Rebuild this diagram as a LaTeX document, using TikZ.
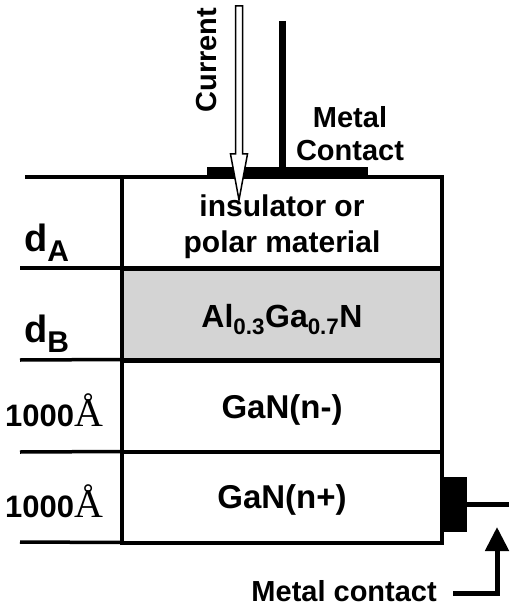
\documentclass[tikz,border=0pt]{standalone}
\usepackage{fontspec}
\setmainfont{Liberation Sans}[BoldFont={Liberation Sans Bold}]
\newfontfamily\serifA{Liberation Serif}
\usetikzlibrary{arrows.meta}
\begin{document}
\begin{tikzpicture}[x=1pt,y=-1pt,
  layer/.style={draw=black,line width=4pt,minimum width=320pt,minimum height=91pt,inner sep=0pt,outer sep=0pt},
  ltext/.style={inner sep=0pt,anchor=base,font=\fontsize{33}{35}\selectfont\bfseries},
  tick/.style={line width=3.5pt},
  lbl/.style={inner sep=0pt,font=\fontsize{29}{34}\selectfont\bfseries},
  num/.style={inner sep=0pt,font=\fontsize{31}{34}\selectfont\bfseries},
  bigd/.style={inner sep=0pt,font=\fontsize{38}{40}\selectfont\bfseries}]
\useasboundingbox (0,0) rectangle (509,612);
% layers
\node[layer,fill=white] (L1) at (282,222.5) {};
\node[layer,fill=black!17] (L2) at (282,314) {};
\node[layer,fill=white] (L3) at (282,406) {};
\node[layer,fill=white] (L4) at (282,497) {};
% layer texts
\node[lbl,anchor=base,font=\fontsize{30}{35}\selectfont\bfseries] (T1a) at (282,217) {insulator or};
\node[lbl,anchor=base,font=\fontsize{30}{35}\selectfont\bfseries] (T1b) at (282,252) {polar material};
\node[ltext,font=\fontsize{32}{35}\selectfont\bfseries] (T2) at (282,327) {Al\textsubscript{0.3}Ga\textsubscript{0.7}N};
\node[ltext] (T3) at (282,418) {GaN(n-)};
\node[ltext] (T4) at (282,508) {GaN(n+)};
% left ticks
\coordinate (t0) at (25,177);
\coordinate (t1) at (20,268);
\coordinate (t2) at (20,360);
\coordinate (t3) at (20,452);
\coordinate (t4) at (20,542);
\draw[tick] (t0) -- (L1.north west);
\draw[tick] (t1) -- (L1.south west);
\draw[tick] (t2) -- (L2.south west);
\draw[tick] (t3) -- (L3.south west);
\draw[tick] (t4) -- (L4.south west);
% left labels
\node[bigd,anchor=base west] (dA) at (24,251) {d\raisebox{-10pt}{\fontsize{30}{32}\selectfont A}};
\node[bigd,anchor=base west] (dB) at (24,342) {d\raisebox{-10pt}{\fontsize{30}{32}\selectfont B}};
\node[num,anchor=base west] (n3) at (5,426) {1000{\serifA\mdseries\fontsize{40}{40}\selectfont Å}};
\node[num,anchor=base west] (n4) at (5,517) {1000{\serifA\mdseries\fontsize{40}{40}\selectfont Å}};
% top contact
\fill (207,167) rectangle (368,178);
\coordinate (stemtop) at (282.5,21);
\coordinate (stembot) at (282.5,168);
\draw[line width=7pt] (stemtop) -- (stembot);
\node[lbl,align=center,font=\fontsize{29}{33}\selectfont\bfseries] (MC) at (350,134) {Metal\\Contact};
% current arrow
\draw[line width=1.5pt,fill=white,line join=miter]
  (235.5,6) -- (242.5,6) -- (242.5,154) -- (247.5,154) -- (239,200) -- (230.5,154) -- (235.5,154) -- cycle;
\node[lbl,rotate=90] (cur) at (207,60) {Current};
% right contact
\node[fill=black,minimum width=24pt,minimum height=55pt,inner sep=0pt,outer sep=0pt] (RC) at (455,504.5) {};
\coordinate (wireend) at (509,0);
\draw[line width=5pt] (RC.east) -- (RC.east -| wireend);
\node[lbl,anchor=base east] (MC2) at (437,601) {Metal contact};
\coordinate (arrStart) at (453,593);
\coordinate (arrTip) at (497,527);
\draw[line width=5pt,-{Triangle[length=24pt,width=23pt]}] (arrStart) -| (arrTip);
\end{tikzpicture}
\end{document}
